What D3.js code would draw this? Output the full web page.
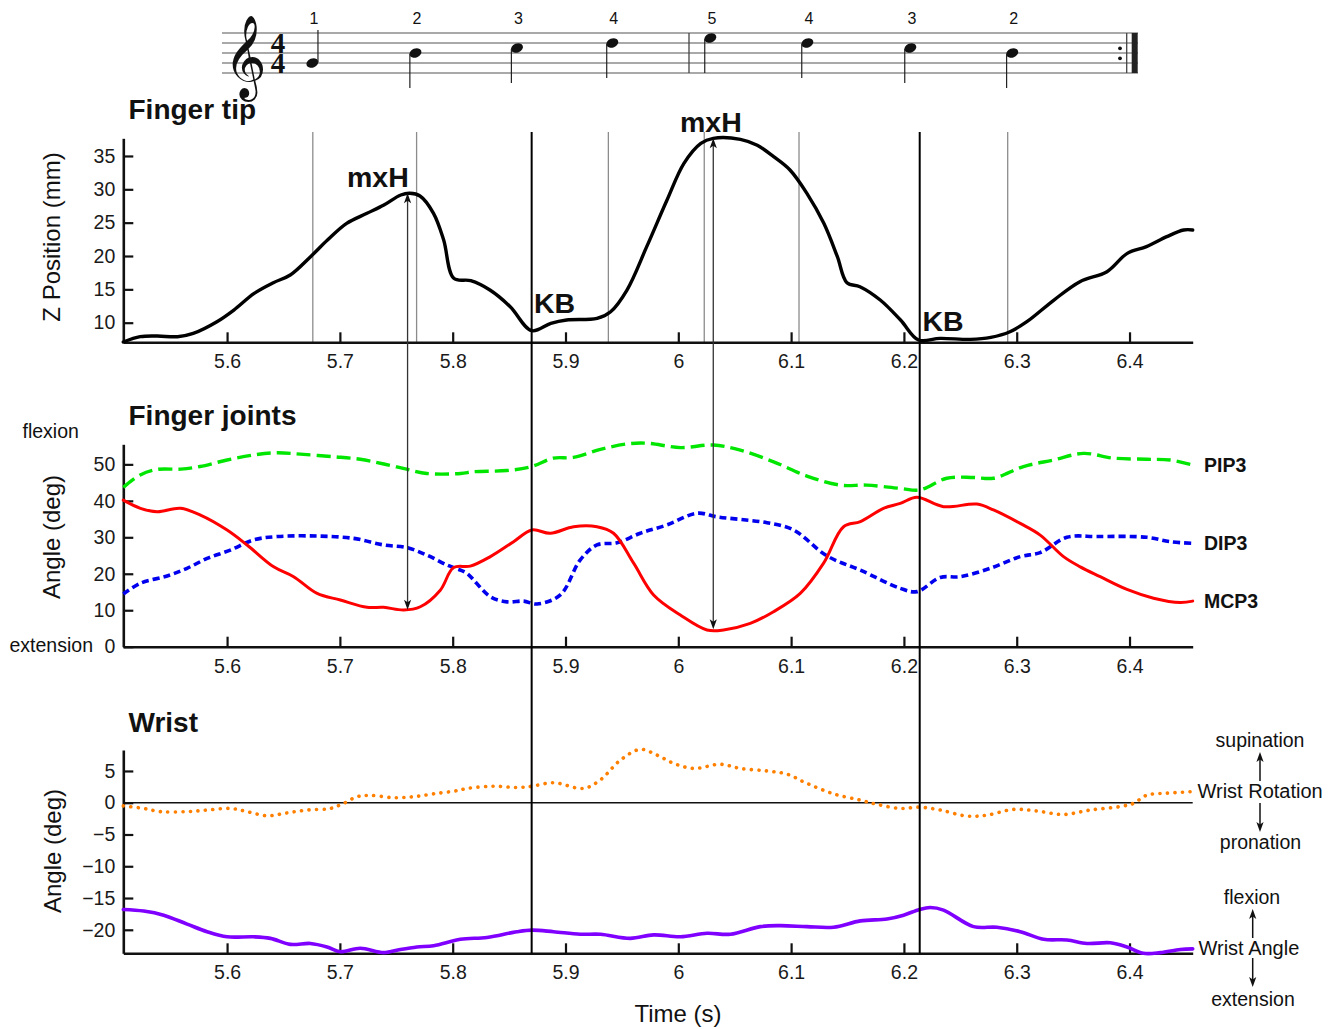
<!DOCTYPE html>
<html><head><meta charset="utf-8">
<script src="https://cdn.jsdelivr.net/npm/d3@7"></script>
<style>
body{margin:0;background:#fff}
svg{display:block}
text{font-family:"Liberation Sans",Arial,Helvetica,sans-serif}
</style>
</head><body>
<svg id="c" width="1334" height="1029"></svg>
<script>
// ---------------- DATA ----------------
const xTicks = [5.6,5.7,5.8,5.9,6.0,6.1,6.2,6.3,6.4];
const xTickLabels = ["5.6","5.7","5.8","5.9","6","6.1","6.2","6.3","6.4"];
const tipTicks = [10,15,20,25,30,35];
const jointTicks = [0,10,20,30,40,50];
const wristTicks = [5,0,-5,-10,-15,-20];

// music staff
const noteTimes = [5.6756,5.767,5.857,5.9415,6.0284,6.1144,6.2057,6.296];
const notePitch = ["G4","B4","C5","D5","E5","D5","C5","B4"];
const noteFinger = ["1","2","3","4","5","4","3","2"];
const timeSignature = "44";

// event markers
const noteLineTimes = [5.676,5.768,5.938,6.023,6.107,6.292];
const kbTimes = [5.870,6.214];
const mxhTimes = [5.760,6.031];
const mxhTipZ = [29.4,37.65];
const mxhMcp = [10.1,4.8];

// finger tip Z position (mm)
const tipT = [5.508,5.523,5.538,5.556,5.570,5.591,5.606,5.624,5.641,5.656,5.674,5.689,5.706,5.724,5.739,5.754,5.762,5.771,5.783,5.792,5.801,5.816,5.833,5.851,5.870,5.887,5.901,5.928,5.940,5.9545,5.972,5.990,6.005,6.020,6.031,6.055,6.070,6.0845,6.099,6.114,6.129,6.141,6.1495,6.161,6.179,6.197,6.213,6.232,6.259,6.277,6.294,6.309,6.333,6.356,6.380,6.398,6.415,6.433,6.448,6.456];
const tipZ = [7.1,7.9,8.0,7.9,8.4,10.15,11.9,14.4,16.0,17.15,19.9,22.4,24.9,26.4,27.65,29.15,29.4,29.0,26.4,22.4,16.65,16.3,14.9,12.4,8.8,9.9,10.4,10.65,11.65,14.9,21.4,28.4,33.9,36.9,37.65,37.5,36.6,34.9,32.9,29.4,24.9,19.9,16.0,15.4,13.4,10.4,7.4,7.65,7.5,7.8,8.65,10.15,13.4,16.15,17.65,20.4,21.4,22.9,23.9,23.9];

// PIP3 (deg)
const pipT = [5.508,5.523,5.538,5.559,5.576,5.600,5.624,5.644,5.665,5.6945,5.718,5.739,5.760,5.777,5.807,5.8186,5.848,5.870,5.889,5.907,5.931,5.9545,5.972,6.002,6.031,6.055,6.0845,6.114,6.1436,6.167,6.197,6.214,6.238,6.2617,6.2795,6.306,6.3326,6.3592,6.3858,6.4154,6.436,6.456];
const pipV = [43.7,47.1,48.6,48.7,49.4,51.2,52.6,53.2,52.8,52.1,51.4,50.1,48.6,47.5,47.5,48.0,48.3,49.4,51.7,51.9,54.1,55.6,55.8,54.6,55.3,53.9,50.7,46.8,44.3,44.3,43.4,43.0,46.2,46.4,46.2,49.4,51.2,53.0,51.7,51.4,51.2,49.8];

// DIP3 (deg)
const dipT = [5.508,5.5232,5.5468,5.5645,5.5823,5.6029,5.6236,5.6443,5.6798,5.7122,5.7388,5.7595,5.7773,5.795,5.8068,5.8127,5.8334,5.8482,5.8629,5.8747,5.8954,5.9131,5.9279,5.9457,5.9663,5.99,6.0166,6.0343,6.055,6.0786,6.1022,6.1318,6.1614,6.1968,6.2115,6.2322,6.2499,6.2765,6.3031,6.3208,6.3445,6.3711,6.4154,6.436,6.456];
const dipV = [14.45,17.4,19.4,21.5,24.2,26.5,29.3,30.2,30.35,29.7,27.9,27.15,25.1,22.4,21.0,20.1,13.7,12.3,12.5,11.7,14.2,23.8,27.9,28.5,31.1,33.4,36.6,35.6,34.9,34.0,32.0,24.9,21.0,16.0,15.1,19.0,19.2,21.5,24.7,25.8,30.0,30.2,30.0,28.8,28.35];

// MCP3 (deg)
const mcpT = [5.508,5.5232,5.538,5.5586,5.5764,5.6,5.6177,5.6413,5.659,5.6798,5.7004,5.7241,5.7388,5.7565,5.7713,5.789,5.8008,5.8156,5.8334,5.854,5.8703,5.8865,5.9072,5.9279,5.9426,5.9604,5.9781,6.0018,6.0254,6.0401,6.0638,6.0844,6.1081,6.1288,6.1465,6.1614,6.1819,6.1968,6.2115,6.2351,6.2647,6.2794,6.3031,6.3208,6.3415,6.3563,6.374,6.3977,6.4213,6.445,6.456];
const mcpV = [40.2,37.95,37.0,37.95,36.1,32.0,27.9,21.9,19.2,14.6,12.8,10.8,10.8,10.05,10.95,15.5,21.7,22.1,24.7,28.8,32.0,31.1,32.9,32.9,31.1,22.9,14.2,8.7,4.6,4.6,6.4,9.6,14.6,22.9,32.9,34.3,37.95,39.3,41.0,38.4,39.1,37.5,33.8,30.6,24.7,21.9,19.2,15.7,13.3,12.1,12.5];

// Wrist rotation (deg)
const rotT = [5.508,5.5261,5.5409,5.5645,5.5823,5.6029,5.6177,5.6355,5.6532,5.6709,5.6916,5.7033,5.7152,5.727,5.7477,5.7654,5.7831,5.8038,5.8127,5.8363,5.857,5.8703,5.8895,5.916,5.9309,5.9486,5.9663,5.9811,5.9958,6.0136,6.0372,6.055,6.0786,6.0963,6.114,6.1376,6.1614,6.1761,6.1968,6.2139,6.2322,6.2558,6.2736,6.2971,6.3179,6.3415,6.3651,6.3917,6.4035,6.4154,6.4331,6.456];
const rotV = [-0.5,-0.9,-1.4,-1.4,-1.15,-0.9,-1.4,-2.05,-1.6,-1.15,-0.9,-0.1,0.95,1.15,0.8,0.95,1.4,1.9,2.25,2.6,2.4,2.6,3.15,2.25,3.6,6.7,8.4,7.5,6.2,5.4,6.05,5.4,5.0,4.5,3.05,1.4,0.4,-0.25,-0.9,-0.7,-1.15,-2.1,-1.95,-1.05,-1.3,-1.85,-1.15,-0.6,-0.1,1.2,1.5,1.75];

// Wrist angle (deg)
const angT = [5.508,5.5261,5.5438,5.5645,5.5823,5.6,5.6236,5.6384,5.6561,5.6738,5.6886,5.7004,5.7181,5.7388,5.7536,5.7684,5.7831,5.8068,5.8304,5.857,5.8703,5.8895,5.9131,5.9309,5.9574,5.9781,6.0018,6.0254,6.0461,6.0727,6.0904,6.114,6.1376,6.1614,6.185,6.1997,6.2139,6.2233,6.2351,6.2617,6.2824,6.3031,6.3238,6.3445,6.3622,6.3829,6.3977,6.4124,6.4272,6.445,6.456];
const angV = [-16.8,-17.05,-17.7,-19.1,-20.3,-21.1,-21.1,-21.35,-22.3,-22.15,-22.7,-23.45,-22.9,-23.6,-23.1,-22.7,-22.5,-21.5,-21.2,-20.3,-20.05,-20.3,-20.7,-20.7,-21.35,-20.8,-21.1,-20.55,-20.7,-19.5,-19.35,-19.5,-19.6,-18.6,-18.3,-17.7,-16.8,-16.5,-16.9,-19.5,-19.6,-20.3,-21.5,-21.6,-22.15,-22.05,-22.7,-23.7,-23.6,-23.1,-23.0];

// ---------------- CHART ----------------
const svg = d3.select('#c');
const x = d3.scaleLinear().domain([5.508, 6.456]).range([123.3, 1192.7]);
const yTip = d3.scaleLinear().domain([7.06, 37.65]).range([342.3, 138.3]);
const yJ = d3.scaleLinear().domain([0, 55.5]).range([646.7, 444.3]);
const yW = d3.scaleLinear().domain([-23.7, 8.3]).range([953.3, 750]);

const FONT = '"Liberation Sans",Arial,Helvetica,sans-serif';

// ---- music staff ----
const staff = svg.append('g');
const staffTop = 33, sp = 10, staffL = 222, staffR = 1138;
for (let i = 0; i < 5; i++) {
  staff.append('line').attr('x1', staffL).attr('x2', staffR)
    .attr('y1', staffTop + i*sp).attr('y2', staffTop + i*sp)
    .attr('stroke', '#555').attr('stroke-width', 1.2);
}
staff.append('line').attr('x1',689).attr('x2',689).attr('y1',staffTop).attr('y2',staffTop+4*sp).attr('stroke','#444').attr('stroke-width',1.3);
staff.append('line').attr('x1',1126.7).attr('x2',1126.7).attr('y1',staffTop).attr('y2',staffTop+4*sp).attr('stroke','#444').attr('stroke-width',1.3);
staff.append('rect').attr('x',1131.7).attr('y',staffTop).attr('width',6).attr('height',4*sp).attr('fill','#222');
staff.append('circle').attr('cx',1120).attr('cy',48.3).attr('r',1.9).attr('fill','#111');
staff.append('circle').attr('cx',1120).attr('cy',58.3).attr('r',1.9).attr('fill','#111');
// clef
staff.append('text').attr('x',245.5).attr('y',81).attr('text-anchor','middle')
  .style('font-family','"DejaVu Sans","Noto Sans Symbols2",serif').attr('font-size',72).attr('fill','#111')
  .text('\u{1D11E}');
// time signature: one vertical text, digits stacked
staff.append('text').attr('x',278).attr('y',staffTop - 6)
  .style('writing-mode','vertical-rl').style('text-orientation','upright')
  .style('font-family','"Liberation Serif","DejaVu Serif",serif').attr('font-weight','bold')
  .attr('font-size',29).attr('letter-spacing',-12).attr('fill','#111').text(timeSignature);

const stepOf = {E4:0,F4:1,G4:2,A4:3,B4:4,C5:5,D5:6,E5:7};
noteTimes.forEach((t,i)=>{
  const nx = x(t), ny = staffTop + 4*sp - stepOf[notePitch[i]]*sp/2;
  const up = i === 0;
  staff.append('ellipse').attr('cx',nx).attr('cy',ny).attr('rx',6.2).attr('ry',4.5)
    .attr('transform',`rotate(-22 ${nx} ${ny})`).attr('fill','#111');
  if (up) {
    staff.append('line').attr('x1',nx+5.6).attr('x2',nx+5.6).attr('y1',ny-1).attr('y2',ny-33).attr('stroke','#222').attr('stroke-width',1.2);
  } else {
    staff.append('line').attr('x1',nx-5.6).attr('x2',nx-5.6).attr('y1',ny+1).attr('y2',ny+35).attr('stroke','#222').attr('stroke-width',1.2);
  }
  staff.append('text').attr('x',nx+1.5).attr('y',23.5).attr('text-anchor','middle')
    .attr('font-size',16).attr('fill','#111').text(noteFinger[i]);
});

// ---- panel titles ----
const titles = [["Finger tip",119],["Finger joints",425],["Wrist",731.5]];
titles.forEach(([t,yb])=>{
  svg.append('text').attr('x',128.5).attr('y',yb).attr('font-size',28).attr('font-weight','bold').attr('fill','#111').text(t);
});

// ---- note lines ----
noteLineTimes.forEach(t=>{
  svg.append('line').attr('x1',x(t)).attr('x2',x(t)).attr('y1',132).attr('y2',342.3)
    .attr('stroke','#8c8c8c').attr('stroke-width',1.3);
});

// ---- axes helper ----
function styleAxis(g){
  g.attr('font-size',19.5).attr('font-family',FONT);
  g.select('.domain').attr('stroke','#111').attr('stroke-width',2.6);
  g.selectAll('.tick line').attr('stroke','#111').attr('stroke-width',2.2);
  g.selectAll('.tick text').attr('fill','#1a1a1a');
}
function xAxis(y0){
  const g = svg.append('g').attr('transform',`translate(0,${y0})`)
    .call(d3.axisBottom(x).tickValues(xTicks).tickFormat((d,i)=>xTickLabels[i])
      .tickSizeInner(-10).tickSizeOuter(0).tickPadding(12));
  styleAxis(g);
}
function yAxis(scale, ticks){
  const g = svg.append('g').attr('transform',`translate(${x.range()[0]},0)`)
    .call(d3.axisLeft(scale).tickValues(ticks).tickSizeInner(-10).tickSizeOuter(0).tickPadding(8));
  styleAxis(g);
}
xAxis(yTip.range()[0]); yAxis(yTip, tipTicks);
xAxis(yJ.range()[0]); yAxis(yJ, jointTicks);
svg.append('line').attr('x1',x.range()[0]).attr('x2',x.range()[1]).attr('y1',yW(0)).attr('y2',yW(0)).attr('stroke','#111').attr('stroke-width',1.5);
xAxis(yW.range()[0]); yAxis(yW, wristTicks);

// ---- series ----
function series(T, V, ys, color, width, dash, cap){
  const data = T.map((t,i)=>[t,V[i]]);
  const line = d3.line().x(d=>x(d[0])).y(d=>ys(d[1])).curve(d3.curveCatmullRom.alpha(0.5));
  const p = svg.append('path').attr('d',line(data)).attr('fill','none')
    .attr('stroke',color).attr('stroke-width',width)
    .attr('stroke-linejoin','round').attr('stroke-linecap',cap||'butt');
  if (dash) p.attr('stroke-dasharray',dash);
}
series(tipT, tipZ, yTip, '#000', 3.4, null, 'round');
series(pipT, pipV, yJ, '#00e600', 3.4, '14 6');
series(dipT, dipV, yJ, '#0000ee', 3.6, '7 4');
series(mcpT, mcpV, yJ, '#ff0000', 3.0, null, 'round');
series(rotT, rotV, yW, '#ff8000', 3.6, '0.1 7.4', 'round');
series(angT, angV, yW, '#7f00ff', 3.6, null, 'round');

// KB vertical lines
kbTimes.forEach(t=>{
  svg.append('line').attr('x1',x(t)).attr('x2',x(t)).attr('y1',132).attr('y2',yW.range()[0])
    .attr('stroke','#000').attr('stroke-width',2);
});

// ---- arrows ----
function head(xc, ytip, dir, color){ // dir -1 up, +1 down
  const L = 10, W = 3.6;
  svg.append('path').attr('d',`M${xc},${ytip}L${xc-W},${ytip - dir*L}L${xc},${ytip - dir*L*0.75}L${xc+W},${ytip - dir*L}Z`)
    .attr('fill',color);
}
mxhTimes.forEach((t,i)=>{
  const xc = x(t), y1 = yTip(mxhTipZ[i]), y2 = yJ(mxhMcp[i]);
  svg.append('line').attr('x1',xc).attr('x2',xc).attr('y1',y1+3).attr('y2',y2-3)
    .attr('stroke','#333').attr('stroke-width',1.3);
  head(xc, y1, -1, '#111');
  head(xc, y2, 1, '#111');
});

// ---- annotations ----
const bold = (t,xx,yy,fs,anchor)=> svg.append('text').attr('x',xx).attr('y',yy).attr('font-size',fs)
  .attr('font-weight','bold').attr('fill','#111').attr('text-anchor',anchor||'start').text(t);
bold('mxH', 347, 186.5, 28.5);
bold('mxH', 680, 131.5, 28.5);
bold('KB', 534, 312.5, 28.5);
bold('KB', 922.5, 330.5, 28.5);
bold('PIP3', 1204, 465, 19.5).attr('dominant-baseline','central');
bold('DIP3', 1204, 543.3, 19.5).attr('dominant-baseline','central');
bold('MCP3', 1204, 601, 19.5).attr('dominant-baseline','central');

const reg = (t,xx,yy,fs,anchor)=> svg.append('text').attr('x',xx).attr('y',yy).attr('font-size',fs)
  .attr('fill','#111').attr('text-anchor',anchor||'start').attr('dominant-baseline','central').text(t);
reg('flexion', 22.5, 431, 19.5);
reg('extension', 9.5, 645, 19.5);
reg('supination', 1260, 740, 19.5, 'middle');
reg('Wrist Rotation', 1197.5, 791, 20);
reg('pronation', 1260.5, 842, 19.5, 'middle');
reg('flexion', 1252, 897, 19.5, 'middle');
reg('Wrist Angle', 1198.5, 948, 20);
reg('extension', 1253, 999, 19.5, 'middle');

function smallArrow(xc, yFrom, yTo){
  const dir = yTo > yFrom ? 1 : -1;
  svg.append('line').attr('x1',xc).attr('x2',xc).attr('y1',yFrom).attr('y2',yTo - dir*6)
    .attr('stroke','#111').attr('stroke-width',1.5);
  head(xc, yTo, dir, '#111');
}
smallArrow(1260, 781, 752);
smallArrow(1260, 803, 832);
smallArrow(1252.7, 938, 909);
smallArrow(1252.7, 958, 987);

// axis titles
const rot = (t,cx,cy)=> svg.append('text').attr('transform',`translate(${cx},${cy}) rotate(-90)`)
  .attr('text-anchor','middle').attr('dominant-baseline','central').attr('font-size',24).attr('fill','#111').text(t);
rot('Z Position (mm)', 51, 237);
rot('Angle (deg)', 51, 537);
rot('Angle (deg)', 52, 851);
svg.append('text').attr('x',678).attr('y',1013).attr('text-anchor','middle').attr('dominant-baseline','central')
  .attr('font-size',24).attr('fill','#111').text('Time (s)');
</script>
</body></html>
